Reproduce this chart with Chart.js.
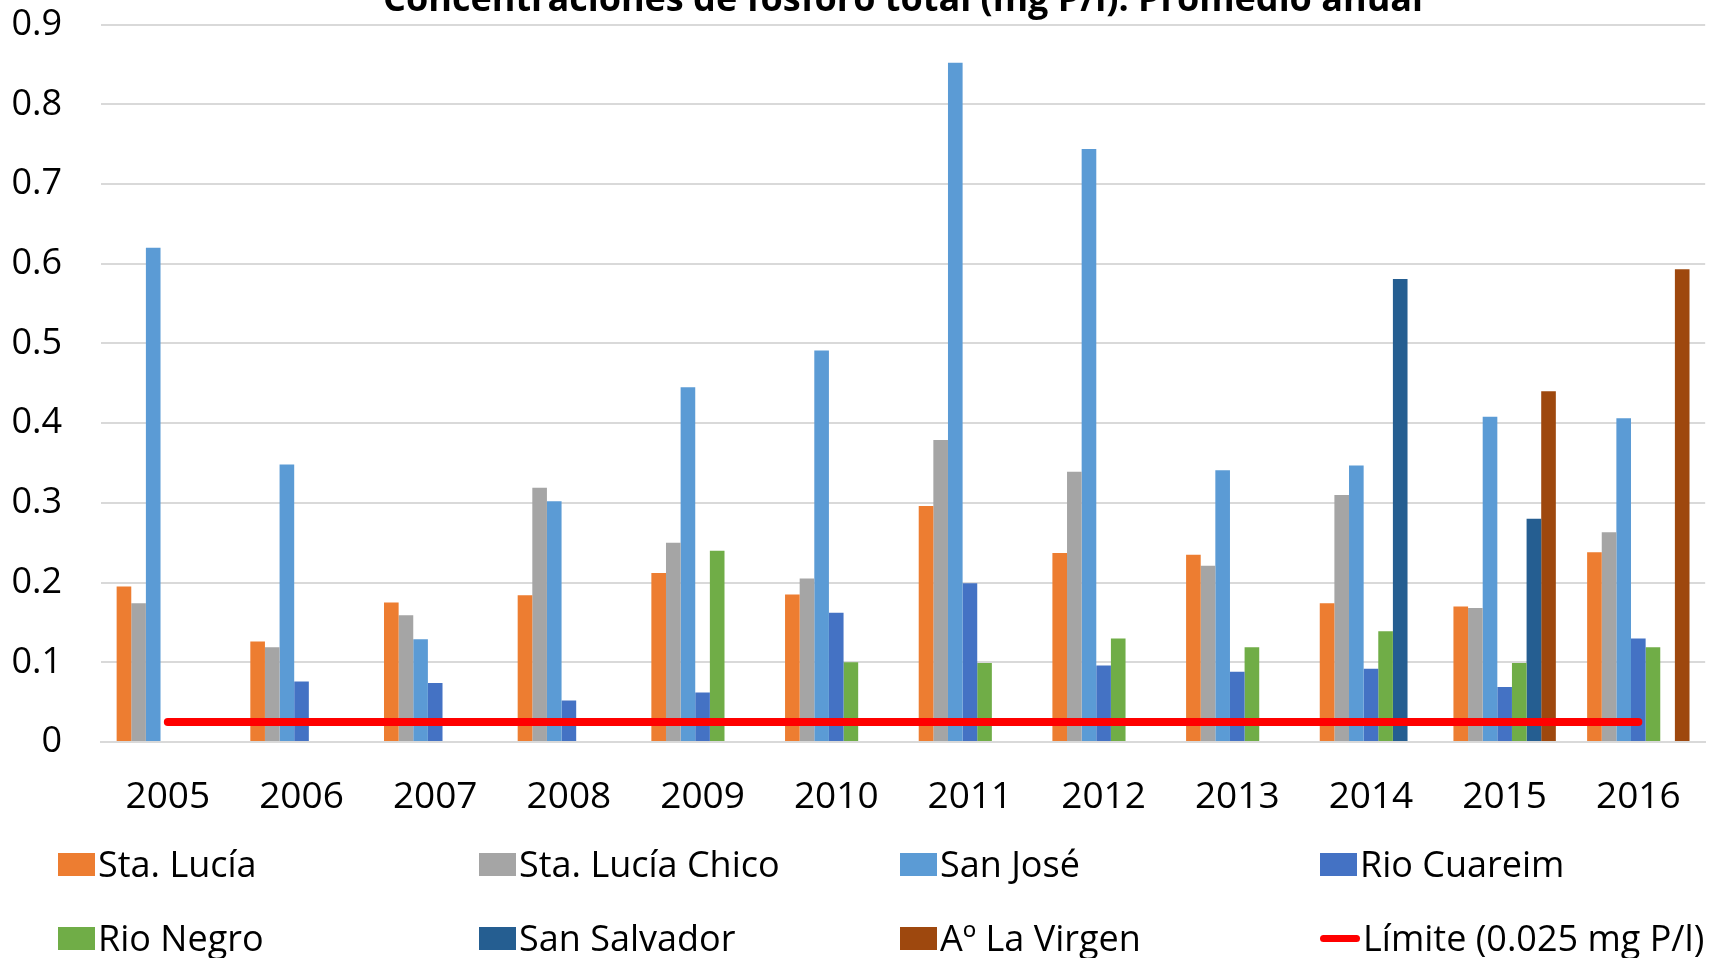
<!DOCTYPE html>
<html>
<head>
<meta charset="utf-8">
<script src="https://cdn.jsdelivr.net/npm/chart.js@4.4.1/dist/chart.umd.min.js"></script>
<style>
  html, body { margin:0; padding:0; background:#fff; width:1714px; height:958px; overflow:hidden; position:relative; }
  #wrap { position:absolute; left:0; top:-36px; width:1714px; height:858px; }
  #legend { position:absolute; left:0; top:0; width:1714px; height:958px; pointer-events:none; }
  .item { position:absolute; display:flex; align-items:center; transform:translateY(-50%);
          font-family:'Open Sans',sans-serif; font-size:36px; line-height:1; color:#000; white-space:nowrap; }
  .box { width:37px; height:23px; margin-right:3px; flex:none; }
  .ln { width:40px; height:7px; border-radius:4px; margin-right:3px; flex:none; }
</style>
</head>
<body>
<div id="wrap"><canvas id="c"></canvas></div>
<div id="legend"></div>
<script>
// ---- data ----
const years = ['2005','2006','2007','2008','2009','2010','2011','2012','2013','2014','2015','2016'];
const staLucia      = [0.195, 0.126, 0.175, 0.184, 0.212, 0.185, 0.296, 0.237, 0.235, 0.174, 0.170, 0.238];
const staLuciaChico = [0.174, 0.119, 0.159, 0.319, 0.250, 0.205, 0.379, 0.339, 0.221, 0.310, 0.168, 0.263];
const sanJose       = [0.620, 0.348, 0.129, 0.302, 0.445, 0.491, 0.852, 0.744, 0.341, 0.347, 0.408, 0.406];
const rioCuareim    = [null,  0.076, 0.074, 0.052, 0.062, 0.162, 0.199, 0.096, 0.088, 0.092, 0.069, 0.130];
const rioNegro      = [null,  null,  null,  null,  0.240, 0.100, 0.099, 0.130, 0.119, 0.139, 0.099, 0.119];
const sanSalvador   = [null,  null,  null,  null,  null,  null,  null,  null,  null,  0.581, 0.280, null];
const laVirgen      = [null,  null,  null,  null,  null,  null,  null,  null,  null,  null,  0.440, 0.593];
const limite        = [0.025, 0.025, 0.025, 0.025, 0.025, 0.025, 0.025, 0.025, 0.025, 0.025, 0.025, 0.025];
const yTickLabels   = ['0','0.1','0.2','0.3','0.4','0.5','0.6','0.7','0.8','0.9'];
const seriesNames   = ['Sta. Lucía','Sta. Lucía Chico','San José','Rio Cuareim','Rio Negro','San Salvador','Aº La Virgen','Límite (0.025 mg P/l)'];
const seriesColors  = ['#ED7D31','#A5A5A5','#5B9BD5','#4472C4','#70AD47','#255E91','#9E480E','#FF0000'];
const titleText     = 'Concentraciones de fósforo total (mg P/l). Promedio anual';

const fam = "'Open Sans',sans-serif";
const barSeries = [staLucia, staLuciaChico, sanJose, rioCuareim, rioNegro, sanSalvador, laVirgen];

const datasets = barSeries.map((d, i) => ({
  type: 'bar',
  label: seriesNames[i],
  data: d,
  backgroundColor: seriesColors[i],
  borderWidth: 0,
  categoryPercentage: 0.766,
  barPercentage: 1.0,
  order: 1
}));
datasets.push({
  type: 'line',
  label: seriesNames[7],
  data: limite,
  borderColor: seriesColors[7],
  backgroundColor: seriesColors[7],
  borderWidth: 8,
  borderCapStyle: 'round',
  pointRadius: 0,
  fill: false,
  order: 0
});

const chart = new Chart(document.getElementById('c'), {
  type: 'bar',
  data: { labels: years, datasets },
  options: {
    responsive: true,
    maintainAspectRatio: false,
    animation: false,
    layout: { padding: { left: 0, right: 0, top: 0, bottom: 0 } },
    plugins: {
      legend: { display: false },
      tooltip: { enabled: false },
      title: {
        display: true,
        text: titleText,
        fullSize: false,
        color: '#000',
        font: { family: fam, size: 36, weight: 'bold', lineHeight: 1.2 },
        padding: { top: 3.9, bottom: 1.8 }
      }
    },
    scales: {
      x: {
        grid: { display: false, drawTicks: false },
        border: { display: true, color: '#d9d9d9', width: 2 },
        ticks: { color: '#000', font: { family: fam, size: 37 }, padding: 33, maxRotation: 0 },
        afterFit(s) { s.height = 80; }
      },
      y: {
        min: 0, max: 0.9,
        grid: { color: '#d9d9d9', lineWidth: 2, drawTicks: false },
        border: { display: false },
        ticks: {
          stepSize: 0.1, color: '#000', padding: 39,
          font: { family: fam, size: 36 },
          callback: (v, i) => yTickLabels[i]
        },
        afterFit(s) { s.width = 101; }
      }
    }
  }
});

// HTML legend built from chart datasets, 4 columns x 2 rows
const colX = [58, 479, 900, 1320];
const rowY = [864, 938];
const leg = document.getElementById('legend');
chart.data.datasets.forEach((ds, i) => {
  const el = document.createElement('div');
  el.className = 'item';
  el.style.left = colX[i % 4] + 'px';
  el.style.top = rowY[Math.floor(i / 4)] + 'px';
  const mk = document.createElement('span');
  mk.className = ds.type === 'line' ? 'ln' : 'box';
  mk.style.background = ds.type === 'line' ? ds.borderColor : ds.backgroundColor;
  const tx = document.createElement('span');
  tx.textContent = ds.label;
  el.appendChild(mk); el.appendChild(tx);
  leg.appendChild(el);
});
</script>
</body>
</html>
